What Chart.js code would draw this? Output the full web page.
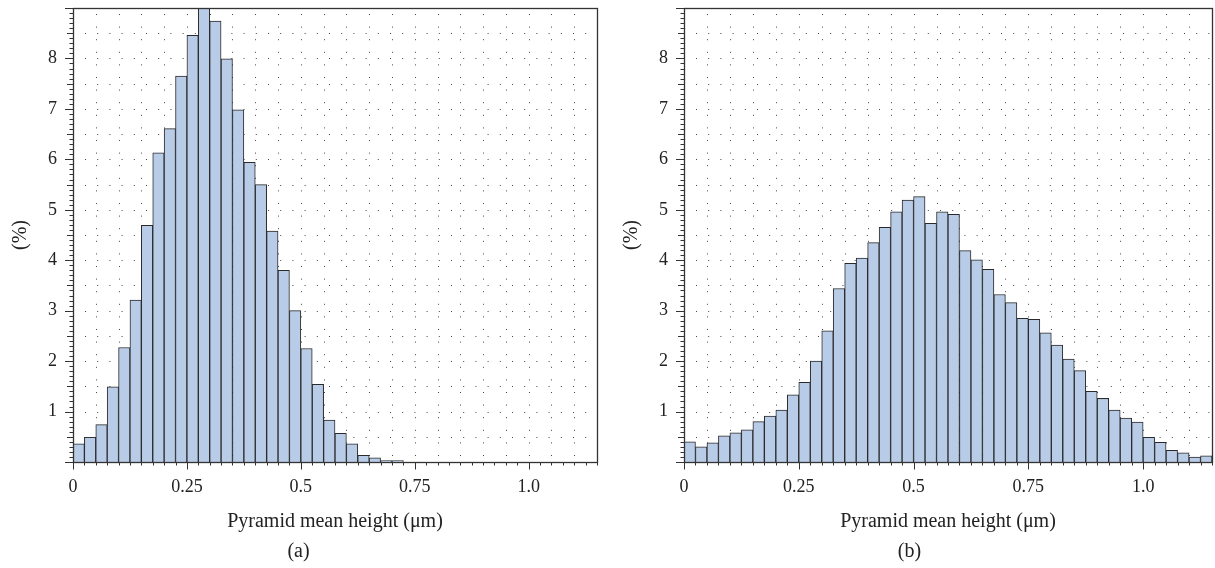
<!DOCTYPE html>
<html>
<head>
<meta charset="utf-8">
<script src="https://cdn.jsdelivr.net/npm/chart.js@4.4.1/dist/chart.umd.min.js"></script>
<style>
  body { margin: 0; background: #fff; }
  canvas { position: absolute; top: 0; }
</style>
</head>
<body>
<canvas id="ca" width="607" height="568" style="left:0"></canvas>
<canvas id="cb" width="608" height="568" style="left:607px"></canvas>
<script>
// lower edge of each histogram bin (um)
const binEdges = [0, 0.025, 0.05, 0.075, 0.1, 0.125, 0.15, 0.175, 0.2, 0.225,
  0.25, 0.275, 0.3, 0.325, 0.35, 0.375, 0.4, 0.425, 0.45, 0.475,
  0.5, 0.525, 0.55, 0.575, 0.6, 0.625, 0.65, 0.675, 0.7, 0.725,
  0.75, 0.775, 0.8, 0.825, 0.85, 0.875, 0.9, 0.925, 0.95, 0.975,
  1.0, 1.025, 1.05, 1.075, 1.1, 1.125]
const binWidth = 0.025

// (a) percentages
const pctA = [0.36, 0.49, 0.74, 1.49, 2.27, 3.21, 4.69, 6.13, 6.61, 7.65,
  8.46, 9.0, 8.74, 7.99, 6.98, 5.94, 5.50, 4.58, 3.80, 3.00,
  2.25, 1.54, 0.83, 0.57, 0.36, 0.13, 0.085, 0.03, 0.03, 0,
  0, 0, 0, 0, 0, 0, 0, 0, 0, 0,
  0, 0, 0, 0, 0, 0]

// (b) percentages
const pctB = [0.40, 0.30, 0.38, 0.52, 0.58, 0.64, 0.80, 0.91, 1.03, 1.33,
  1.58, 2.00, 2.60, 3.44, 3.94, 4.04, 4.35, 4.65, 4.96, 5.19,
  5.26, 4.73, 4.96, 4.91, 4.19, 4.01, 3.82, 3.32, 3.16, 2.85,
  2.83, 2.56, 2.32, 2.04, 1.81, 1.40, 1.26, 1.03, 0.87, 0.79,
  0.49, 0.39, 0.23, 0.18, 0.10, 0.12]

const xTickLabels = ['0', '0.25', '0.5', '0.75', '1.0']
const yTickLabels = ['', '1', '2', '3', '4', '5', '6', '7', '8', '']
const xTitle = 'Pyramid mean height (\u03bcm)'
const yTitle = '(%)'

Chart.defaults.font.family = "'Liberation Serif', 'Times New Roman', serif"
Chart.defaults.font.size = 18
Chart.defaults.color = '#222'

// dotted grid, minor/major tick marks and the box frame
const decor = {
  id: 'decor',
  beforeDatasetsDraw(chart) {
    const {ctx, chartArea: a, scales: {x, y}} = chart
    ctx.save()
    ctx.strokeStyle = '#444'
    ctx.lineWidth = 1
    ctx.setLineDash([1, 11.2])
    for (let k = 1; k < 18; k++) {
      const py = Math.round(y.getPixelForValue(k * 0.5)) + 0.5
      ctx.beginPath(); ctx.moveTo(a.left + 12, py); ctx.lineTo(a.right, py); ctx.stroke()
    }
    ctx.setLineDash([1, 11.6])
    for (let k = 1; k < 23; k++) {
      const px = Math.round(x.getPixelForValue(k * 0.05)) + 0.5
      ctx.beginPath(); ctx.moveTo(px, a.bottom - 6); ctx.lineTo(px, a.top); ctx.stroke()
    }
    ctx.restore()
  },
  afterDraw(chart) {
    const {ctx, chartArea: a, scales: {x, y}} = chart
    ctx.save()
    ctx.strokeStyle = '#333'
    ctx.lineWidth = 1
    ctx.beginPath()
    for (let k = 0; k <= 90; k++) {
      const py = Math.round(y.getPixelForValue(k / 10)) + 0.5
      const len = k % 10 === 0 ? 8 : (k % 5 === 0 ? 6 : 3.5)
      ctx.moveTo(a.left, py); ctx.lineTo(a.left - len, py)
    }
    for (let k = 0; k <= 46; k++) {
      const px = Math.round(x.getPixelForValue(k * binWidth)) + 0.5
      const len = k % 10 === 0 ? 7.5 : 3.5
      ctx.moveTo(px, a.bottom); ctx.lineTo(px, a.bottom + len)
    }
    ctx.stroke()
    ctx.lineWidth = 1.3
    ctx.strokeRect(Math.round(a.left) + 0.5, Math.round(a.top) + 0.5,
      Math.round(a.right - a.left), Math.round(a.bottom - a.top))
    ctx.restore()
  }
}

function makeChart(id, pct, tag, yAxisWidth, padRight) {
  return new Chart(document.getElementById(id), {
    type: 'bar',
    data: {
      datasets: [{
        data: binEdges.map((e, i) => ({x: e + binWidth / 2, y: pct[i]})),
        backgroundColor: '#b8cce8',
        borderColor: '#2a2a2a',
        borderWidth: 1,
        borderSkipped: 'bottom',
        barPercentage: 1,
        categoryPercentage: 1
      }]
    },
    options: {
      responsive: false,
      animation: false,
      layout: {padding: {left: 0, right: padRight, top: 8, bottom: 0}},
      plugins: {
        legend: {display: false},
        tooltip: {enabled: false},
        title: {
          display: true, position: 'bottom', text: tag,
          font: {size: 20, weight: 'normal'}, color: '#222',
          padding: {top: 0, bottom: 4}
        }
      },
      scales: {
        x: {
          type: 'linear', min: 0, max: 1.15, offset: false,
          grid: {display: false, drawTicks: false},
          border: {display: false},
          ticks: {
            stepSize: 0.25, includeBounds: false, maxRotation: 0, padding: 14,
            callback: (v, i) => xTickLabels[i]
          },
          title: {display: true, text: xTitle, font: {size: 20}, padding: {top: 0, bottom: 6}},
          afterFit: s => { s.height = 78; s.paddingLeft = 0; s.paddingRight = 0 }
        },
        y: {
          min: 0, max: 9,
          grid: {display: false, drawTicks: false},
          border: {display: false},
          ticks: {stepSize: 1, padding: 16, callback: (v, i) => yTickLabels[i]},
          title: {display: true, text: yTitle, font: {size: 20}, padding: {top: yAxisWidth - 64, bottom: 0}},
          afterFit: s => { s.width = yAxisWidth; s.paddingTop = 0; s.paddingBottom = 0 }
        }
      }
    },
    plugins: [decor]
  })
}

makeChart('ca', pctA, '(a)', 73, 10)
makeChart('cb', pctB, '(b)', 77, 3)
</script>
</body>
</html>
